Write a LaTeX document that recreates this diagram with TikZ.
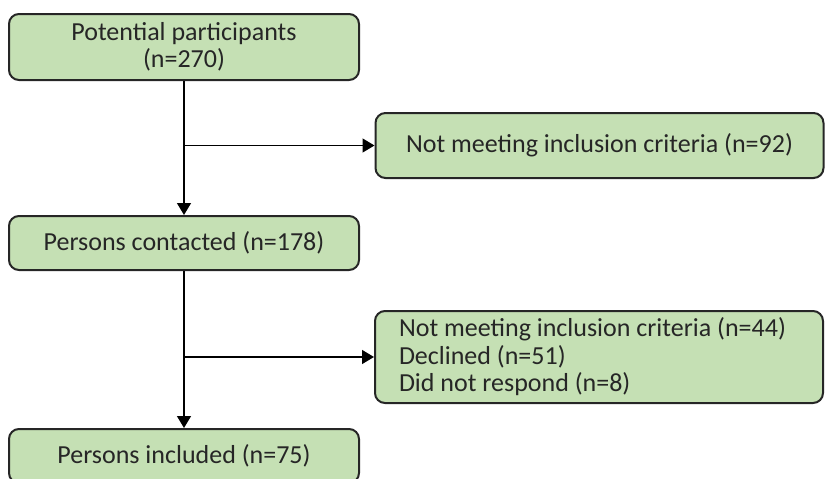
\documentclass[tikz,border=0pt]{standalone}
\usepackage{fontspec}
\setmainfont{Carlito}
\usetikzlibrary{arrows.meta}
\definecolor{boxgreen}{HTML}{C5E0B4}
\definecolor{boxline}{HTML}{262626}

\begin{document}
\begin{tikzpicture}[x=1pt,y=-1pt,
        stage/.style={draw=boxline,line width=2pt,fill=boxgreen,rounded corners=10pt,minimum width=350pt,text=boxline,font=\fontsize{26}{27.5}\selectfont,align=center},
        excl/.style={stage,minimum width=448pt},
        flow/.style={line width=1.3pt,-{Triangle[length=12pt,width=14pt]}}]
        \useasboundingbox (0,0) rectangle (825,479);
        \clip (0,0) rectangle (825,479);
        % main stages
        \node[stage,minimum height=66pt] (pot) at (184,47) {Potential participants\\(n=270)};
        \node[stage,minimum height=54pt] (cont) at (184,243) {Persons contacted (n=178)};
        \node[stage,minimum height=54pt] (incl) at (184,456) {Persons included (n=75)};
        % exclusions
        \node[excl,minimum height=65pt] (nmic) at (599.5,145.5) {Not meeting inclusion criteria (n=92)};
        \node[excl,minimum height=92pt,inner xsep=24pt,text width=400pt,align=flush left] (drop) at (599,357) {Not meeting inclusion criteria (n=44)\\Declined (n=51)\\Did not respond (n=8)};
        \coordinate (br1) at (pot.south |- nmic.west);
        \coordinate (br2) at (cont.south |- drop.west);
        \draw[flow] (pot.south) -- (cont.north);
        \draw[flow] (cont.south) -- (incl.north);
        \draw[flow] (br1) -- (nmic.west);
        \draw[flow] (br2) -- (drop.west);
\end{tikzpicture}
\end{document}
